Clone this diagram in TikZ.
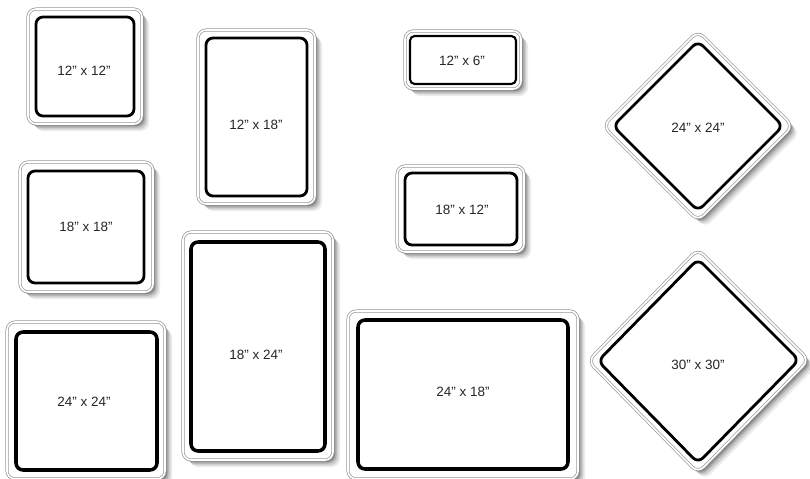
\documentclass[tikz,border=0pt]{standalone}
\usepackage{fontspec}
\setsansfont{Liberation Sans}
\usepackage{tikz}
\usetikzlibrary{shadows}
\tikzset{
  every picture/.style={line join=round, line cap=round},
  plate/.style={draw=gray!80, double=white, double distance=1.4pt, line width=0.6pt,
    fill=white, rounded corners=7pt,
    drop shadow={shadow xshift=6pt, shadow yshift=-6pt, opacity=0.08, fill=black},
    drop shadow={shadow xshift=4.5pt, shadow yshift=-4.5pt, opacity=0.12, fill=black},
    drop shadow={shadow xshift=3pt, shadow yshift=-3pt, opacity=0.16, fill=black},
    drop shadow={shadow xshift=1.8pt, shadow yshift=-1.8pt, opacity=0.22, fill=black}},
  rim/.style={draw=black, line width=2.4pt, rounded corners=6pt},
  wide rim/.style={rim, line width=3pt},
  size/.style={font=\sffamily\fontsize{11.5}{13}\selectfont, text=black!85},
}

\begin{document}
\begin{tikzpicture}[x=0.03cm,y=-0.03cm]
\useasboundingbox[fill=white](0,0)rectangle(810,479);
\draw[plate](28,9)rectangle(142,124);
\draw[rim](36,17)rectangle(134,116);
\node[size](a1212)at(84,71){12" x 12"};
\draw[plate](20,162)rectangle(153,292);
\draw[rim](28,171)rectangle(144,283);
\node[size](a1818)at(86,227){18" x 18"};
\draw[plate](7,322)rectangle(165,479);
\draw[wide rim](16,332)rectangle(157,470);
\node[size](a2424)at(84,402){24" x 24"};
\draw[plate](198,30)rectangle(315,204);
\draw[rim](206,38)rectangle(307,196);
\node[size](b1218)at(256,125){12" x 18"};
\draw[plate](183,232)rectangle(333,460);
\draw[wide rim](191,242)rectangle(325,451);
\node[size](b1824)at(256,355){18" x 24"};
\draw[plate](405,31)rectangle(521,89);
\draw[rim,line width=1.8pt,rounded corners=4pt](410,36)rectangle(516,84);
\node[size](c1206)at(462,61){12" x 6"};
\draw[plate](397,166)rectangle(524,252);
\draw[rim](405,173)rectangle(517,245);
\node[size](c1812)at(462,210){18" x 12"};
\draw[plate](348,311)rectangle(578,479);
\draw[wide rim](358,320)rectangle(568,469);
\node[size](c2418)at(463,392){24" x 18"};
\draw[plate](698,126)++(0,-95)--++(95,95)--++(-95,95)--++(-95,-95)--cycle;
\draw[rim](698,126)++(0,-85)--++(85,85)--++(-85,85)--++(-85,-85)--cycle;
\node[size](d2424)at(698,128){24" x 24"};
\draw[plate](698,362)++(0,-113)--++(111,111)--++(-111,113)--++(-110,-112)--cycle;
\draw[rim](698,362)++(0,-103)--++(101,101)--++(-101,103)--++(-100,-102)--cycle;
\node[size](d3030)at(698,365){30" x 30"};
\end{tikzpicture}
\end{document}
